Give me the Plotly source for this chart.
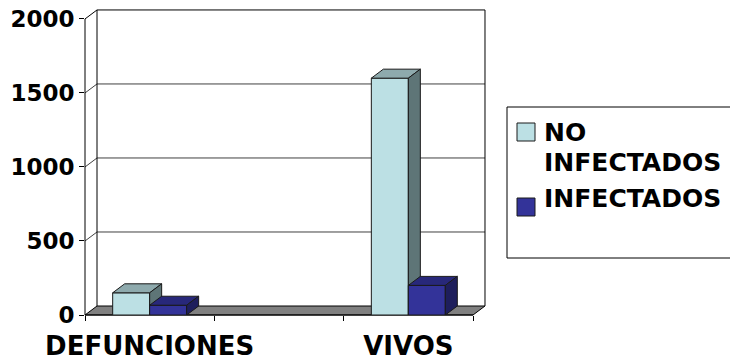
import plotly.graph_objects as go

# ---- data ----
categories = ["DEFUNCIONES", "", "VIVOS"]
no_infectados = [150, None, 1600]
infectados = [66, None, 200]
series_names = ["NO INFECTADOS", "INFECTADOS"]
y_ticks = [0, 500, 1000, 1500, 2000]

# ---- geometry of the pseudo-3D frame ----
W, H = 730, 361
L, R, T, B = 85, 242, 8, 46
X_RANGE = [-0.5, 2.616]
Y_RANGE = [0, 2074]
DX = 0.0928      # depth offset along x (data units)
DY = 60.8        # depth offset along y (data units)
BAR_W = 0.286    # width of one bar (category units)

PLOT_W = W - L - R
PLOT_H = H - T - B

FONT = "DejaVu Sans"

colors = {
    "NO INFECTADOS": ("#BCE0E4", "#8EAAAD", "#5E7577"),
    "INFECTADOS": ("#333399", "#28287A", "#1E1E5C"),
}


def paper(x, y):
    """data coordinates -> paper coordinates"""
    return ((x - X_RANGE[0]) / (X_RANGE[1] - X_RANGE[0]),
            (y - Y_RANGE[0]) / (Y_RANGE[1] - Y_RANGE[0]))


def pix(px, py):
    """pixel position in the page -> paper coordinates"""
    return (px - L) / PLOT_W, (H - B - py) / PLOT_H


fig = go.Figure()


def face(xs, ys, color):
    fig.add_trace(go.Scatter(
        x=xs, y=ys, mode="lines", fill="toself", fillcolor=color,
        line=dict(color="#1a1a1a", width=1), hoverinfo="skip",
        showlegend=False))


def box(x0, x1, v, cols):
    front, top, side = cols
    face([x0, x1, x1, x0, x0], [0, 0, v, v, 0], front)
    face([x0, x1, x1 + DX, x0 + DX, x0], [v, v, v + DY, v + DY, v], top)
    face([x1, x1 + DX, x1 + DX, x1, x1], [0, DY, v + DY, v, 0], side)


# bars: "NO INFECTADOS" left of the category centre, "INFECTADOS" right
for i, cat in enumerate(categories):
    for k, (name, vals) in enumerate(zip(series_names, [no_infectados, infectados])):
        v = vals[i]
        if v is None:
            continue
        x0 = i - BAR_W + k * BAR_W
        box(x0, x0 + BAR_W, v, colors[name])

shapes = []


def line(x0, y0, x1, y1, color="black", width=1):
    a = paper(x0, y0)
    b = paper(x1, y1)
    shapes.append(dict(type="line", xref="paper", yref="paper",
                       x0=a[0], y0=a[1], x1=b[0], y1=b[1],
                       line=dict(color=color, width=width), layer="below"))


xl, xr = -0.5, len(categories) - 0.5
ytop = y_ticks[-1]

# floor
pts = [paper(xl, 0), paper(xr, 0), paper(xr + DX, DY), paper(xl + DX, DY)]
shapes.append(dict(type="path", xref="paper", yref="paper",
                   path="M " + " L ".join(f"{p[0]},{p[1]}" for p in pts) + " Z",
                   fillcolor="#808080", line=dict(color="black", width=1),
                   layer="below"))

# back wall gridlines and left wall diagonals
for v in y_ticks[1:]:
    c = "black" if v == ytop else "#404040"
    line(xl + DX, v + DY, xr + DX, v + DY, c)
    line(xl, v, xl + DX, v + DY, c)

# wall edges
line(xl, 0, xl, ytop)
line(xl + DX, DY, xl + DX, ytop + DY)
line(xr + DX, DY, xr + DX, ytop + DY)
line(xl, 0, xr, 0)

# legend
lx0, ly0 = pix(507, 107)
lx1, ly1 = pix(740, 258)
shapes.append(dict(type="rect", xref="paper", yref="paper",
                   x0=lx0, y0=ly1, x1=lx1, y1=ly0,
                   line=dict(color="black", width=1), fillcolor="white"))
annotations = []
legend_rows = [
    (series_names[0], 123, [("NO", 132), ("INFECTADOS", 162)]),
    (series_names[1], 198, [(series_names[1], 197.5)]),
]
for name, sq_top, lines_ in legend_rows:
    a = pix(517, sq_top)
    b = pix(535, sq_top + 18)
    shapes.append(dict(type="rect", xref="paper", yref="paper",
                       x0=a[0], y0=b[1], x1=b[0], y1=a[1],
                       fillcolor=colors[name][0],
                       line=dict(color="#1a1a1a", width=1)))
    for txt, yc in lines_:
        p = pix(543, yc)
        annotations.append(dict(xref="paper", yref="paper", x=p[0], y=p[1],
                                xanchor="left", yanchor="middle",
                                height=24, borderpad=0,
                                text=f"<b>{txt}</b>", showarrow=False,
                                font=dict(family=FONT, size=25, color="black")))

fig.update_layout(
    width=W, height=H,
    margin=dict(l=L, r=R, t=T, b=B, pad=0, autoexpand=False),
    paper_bgcolor="white", plot_bgcolor="white",
    showlegend=False,
    shapes=shapes, annotations=annotations,
    xaxis=dict(range=X_RANGE, showgrid=False, zeroline=False, showline=False,
               automargin=False,
               tickmode="array", tickvals=list(range(len(categories))),
               ticktext=[f"<b>{c}</b>" for c in categories],
               ticks="", ticklabelstandoff=13,
               tickfont=dict(family=FONT, size=26, color="black"),
               minor=dict(ticks="outside", tick0=-0.5, dtick=1, ticklen=5,
                          tickcolor="black", tickwidth=1, showgrid=False),
               fixedrange=True),
    yaxis=dict(range=Y_RANGE, showgrid=False, zeroline=False, showline=False,
               automargin=False,
               tickmode="array", tickvals=y_ticks,
               ticktext=[f"<b>{v}</b>" for v in y_ticks],
               ticks="outside", ticklen=5, tickcolor="black", tickwidth=1,
               tickfont=dict(family=FONT, size=23, color="black"),
               fixedrange=True),
)

fig.write_html("out.html")
